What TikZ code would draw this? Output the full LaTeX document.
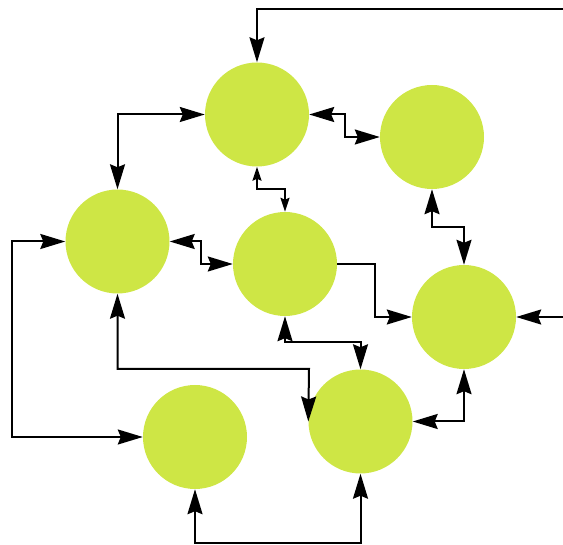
\documentclass[tikz,border=0pt]{standalone}
\usetikzlibrary{arrows.meta}
\definecolor{nodefill}{RGB}{206,230,69}
\begin{document}
\begin{tikzpicture}[x=1pt,y=-1pt,
  blob/.style={circle,fill=nodefill,minimum size=104pt,inner sep=0pt},
  conn/.style={line width=2pt,draw=black},
  big/.tip={Stealth[length=25pt,width=15pt,inset=3pt]},
  small/.tip={Stealth[length=14pt,width=9pt,inset=2pt]}]
\useasboundingbox (0,0) rectangle (563,545);
\node[blob] (A) at (257,114.5) {};
\node[blob] (B) at (432,137) {};
\node[blob] (C) at (117.5,241.5) {};
\node[blob] (D) at (285,264) {};
\node[blob] (E) at (464,317) {};
\node[blob] (F) at (195,437) {};
\node[blob] (G) at (360.5,421.5) {};
\coordinate (tr) at (563,9);
\coordinate (er) at (563,317);
\draw[conn,-big] (tr) -| (A.north);
\draw[conn,big-big] (C.north) |- (A.west);
\draw[conn,big-big] (A.east) -| (345,137) -- (B.west);
\draw[conn,small-small] (A.south) |- (285,189) -- (D.north);
\draw[conn,big-big] (B.south) |- (464,227) -- (E.north);
\draw[conn,big-big] (C.east) -| (201,264) -- (D.west);
\draw[conn,-big] (D.east) -| (375,317) -- (E.west);
\draw[conn,-big] (er) -- (E.east);
\draw[conn,big-big] (D.south) |- (360.5,342) -- (G.north);
\draw[conn,big-big] (C.south) |- (309,369) -- (G.west);
\draw[conn,big-big] (C.west) -| (12,437) -- (F.west);
\draw[conn,big-big] (G.east) -| (E.south);
\draw[conn,big-big] (F.south) |- (360.5,543) -- (G.south);
\end{tikzpicture}
\end{document}
